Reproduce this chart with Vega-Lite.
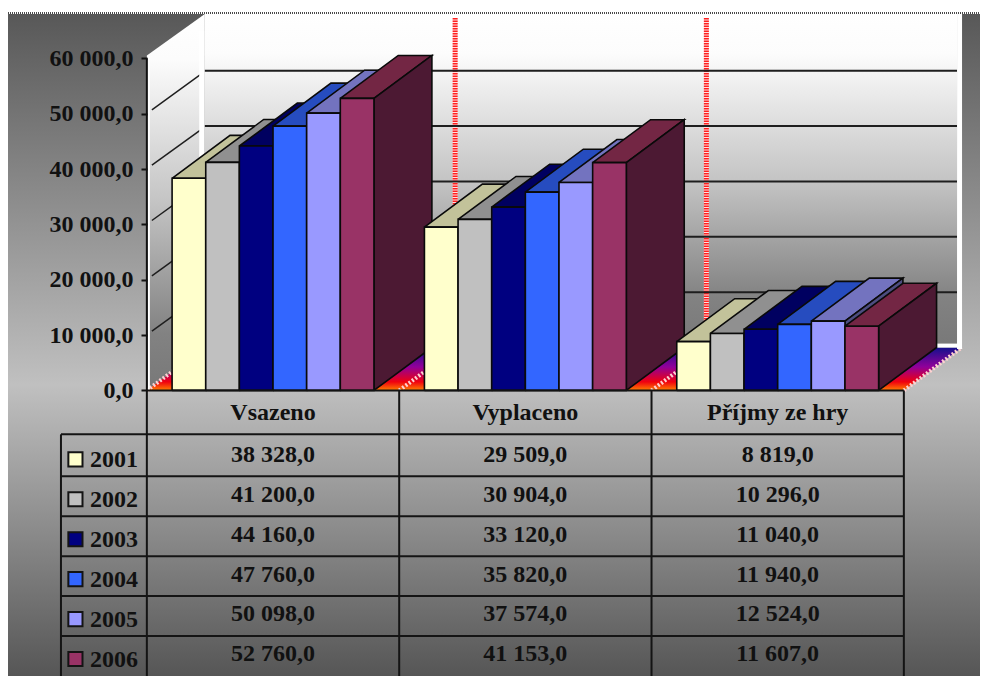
{"$schema":"https://vega.github.io/schema/vega-lite/v6.json","width":981,"height":677,"padding":0,"autosize":{"type":"fit","contains":"padding"},"background":"white","config":{"view":{"stroke":null},"text":{"font":"Liberation Serif","fontWeight":"bold","fontSize":24,"color":"#111111"}},
"datasets":{
"bars":[
{"cat":"Vsazeno","g":0,"year":2001,"value":38328},{"cat":"Vsazeno","g":0,"year":2002,"value":41200},{"cat":"Vsazeno","g":0,"year":2003,"value":44160},{"cat":"Vsazeno","g":0,"year":2004,"value":47760},{"cat":"Vsazeno","g":0,"year":2005,"value":50098},{"cat":"Vsazeno","g":0,"year":2006,"value":52760},
{"cat":"Vyplaceno","g":1,"year":2001,"value":29509},{"cat":"Vyplaceno","g":1,"year":2002,"value":30904},{"cat":"Vyplaceno","g":1,"year":2003,"value":33120},{"cat":"Vyplaceno","g":1,"year":2004,"value":35820},{"cat":"Vyplaceno","g":1,"year":2005,"value":37574},{"cat":"Vyplaceno","g":1,"year":2006,"value":41153},
{"cat":"Příjmy ze hry","g":2,"year":2001,"value":8819},{"cat":"Příjmy ze hry","g":2,"year":2002,"value":10296},{"cat":"Příjmy ze hry","g":2,"year":2003,"value":11040},{"cat":"Příjmy ze hry","g":2,"year":2004,"value":11940},{"cat":"Příjmy ze hry","g":2,"year":2005,"value":12524},{"cat":"Příjmy ze hry","g":2,"year":2006,"value":11607}],
"years":[{"year":2001},{"year":2002},{"year":2003},{"year":2004},{"year":2005},{"year":2006}],
"ticks":[{"tick":0},{"tick":10000},{"tick":20000},{"tick":30000},{"tick":40000},{"tick":50000},{"tick":60000}],
"cats":[{"cat":"Vsazeno","c":0},{"cat":"Vyplaceno","c":1},{"cat":"Příjmy ze hry","c":2},{"cat":"","c":3}],
"corners":[{"k":0},{"k":1},{"k":2},{"k":3}]},
"layer":[
{"data":{"values":[{}]},"mark":{"type":"rect","fill":{"gradient":"linear","x1":0,"x2":0,"y1":0,"y2":1,"stops":[{"offset":0,"color":"#585858"},{"offset":0.56,"color":"#c0c0c0"},{"offset":1,"color":"#565656"}]}},"encoding":{"x":{"datum":-4.127,"type":"quantitative","scale":{"domain":[-4.365,24.763],"nice":false,"zero":false},"axis":null},"x2":{"datum":24.763},"y":{"datum":68014,"type":"quantitative","scale":{"domain":[-51596,70539],"nice":false,"zero":false},"axis":null},"y2":{"datum":-51596}}},
{"data":{"values":[{}]},"mark":{"type":"rect","fill":{"gradient":"linear","x1":0,"x2":0,"y1":0,"y2":1,"stops":[{"offset":0,"color":"#ffffff"},{"offset":0.12,"color":"#fcfcfc"},{"offset":0.5,"color":"#c4c4c4"},{"offset":0.85,"color":"#828282"},{"offset":1,"color":"#787878"}]}},"encoding":{"x":{"datum":1.722,"type":"quantitative","scale":{"domain":[-4.365,24.763],"nice":false,"zero":false},"axis":null},"x2":{"datum":24.08},"y":{"datum":68014,"type":"quantitative","scale":{"domain":[-51596,70539],"nice":false,"zero":false},"axis":null},"y2":{"datum":7757}}},
{"data":{"name":"corners"},"transform":[{"calculate":"[0,1.722,1.722,0][datum.k]","as":"px"},{"calculate":"[0,7757,68014,60500][datum.k]","as":"pv"}],"mark":{"type":"line","filled":true,"stroke":null,"fill":{"gradient":"linear","x1":0,"x2":0,"y1":0,"y2":1,"stops":[{"offset":0,"color":"#ffffff"},{"offset":0.12,"color":"#fcfcfc"},{"offset":0.5,"color":"#c4c4c4"},{"offset":0.85,"color":"#828282"},{"offset":1,"color":"#787878"}]}},"encoding":{"x":{"field":"px","type":"quantitative","scale":{"domain":[-4.365,24.763],"nice":false,"zero":false},"axis":null},"y":{"field":"pv","type":"quantitative","scale":{"domain":[-51596,70539],"nice":false,"zero":false},"axis":null},"order":{"field":"k"}}},
{"data":{"name":"corners"},"transform":[{"calculate":"[0,22.5,24.222,1.722][datum.k]","as":"px"},{"calculate":"[0,0,7757,7757][datum.k]","as":"pv"}],"mark":{"type":"line","filled":true,"stroke":null,"fill":{"gradient":"linear","x1":0,"x2":0,"y1":0,"y2":1,"stops":[{"offset":0,"color":"#14108c"},{"offset":0.45,"color":"#90009a"},{"offset":0.8,"color":"#f00010"},{"offset":1,"color":"#ff8000"}]}},"encoding":{"x":{"field":"px","type":"quantitative","scale":{"domain":[-4.365,24.763],"nice":false,"zero":false},"axis":null},"y":{"field":"pv","type":"quantitative","scale":{"domain":[-51596,70539],"nice":false,"zero":false},"axis":null},"order":{"field":"k"}}},
{"data":{"name":"cats"},"transform":[{"calculate":"datum.c*7.5","as":"fx"},{"calculate":"datum.c*7.5+1.722","as":"bx"},{"calculate":"7757","as":"bv"},{"calculate":"0","as":"fv"}],"mark":{"type":"rule","stroke":"#ffd0d0","strokeWidth":4,"strokeDash":[2,2]},"encoding":{"x":{"field":"fx","type":"quantitative","scale":{"domain":[-4.365,24.763],"nice":false,"zero":false},"axis":null},"x2":{"field":"bx"},"y":{"field":"fv","type":"quantitative","scale":{"domain":[-51596,70539],"nice":false,"zero":false},"axis":null},"y2":{"field":"bv"}}},
{"data":{"name":"cats"},"transform":[{"filter":"datum.c==1||datum.c==2"},{"calculate":"datum.c==1?9.163:16.63","as":"bx"}],"mark":{"type":"rule","stroke":"#ffe0e0","strokeWidth":5},"encoding":{"x":{"field":"bx","type":"quantitative","scale":{"domain":[-4.365,24.763],"nice":false,"zero":false},"axis":null},"y":{"datum":67300,"type":"quantitative","scale":{"domain":[-51596,70539],"nice":false,"zero":false},"axis":null},"y2":{"datum":7757}}},
{"data":{"name":"cats"},"transform":[{"filter":"datum.c==1||datum.c==2"},{"calculate":"datum.c==1?9.163:16.63","as":"bx"}],"mark":{"type":"rule","stroke":"#ff2020","strokeWidth":5,"strokeDash":[1.5,1]},"encoding":{"x":{"field":"bx","type":"quantitative","scale":{"domain":[-4.365,24.763],"nice":false,"zero":false},"axis":null},"y":{"datum":67300,"type":"quantitative","scale":{"domain":[-51596,70539],"nice":false,"zero":false},"axis":null},"y2":{"datum":7757}}},
{"data":{"name":"ticks"},"transform":[{"filter":"datum.tick>0&&datum.tick<60000"},{"calculate":"datum.tick+7757","as":"bv"}],"mark":{"type":"rule","stroke":"#1e1e1e","strokeWidth":2},"encoding":{"x":{"datum":1.722,"type":"quantitative","scale":{"domain":[-4.365,24.763],"nice":false,"zero":false},"axis":null},"x2":{"datum":24.08},"y":{"field":"bv","type":"quantitative","scale":{"domain":[-51596,70539],"nice":false,"zero":false},"axis":null}}},
{"data":{"name":"ticks"},"transform":[{"filter":"datum.tick>0&&datum.tick<60000"},{"calculate":"datum.tick+7000","as":"bv"},{"calculate":"datum.tick+700","as":"fv"}],"mark":{"type":"rule","stroke":"#1e1e1e","strokeWidth":1.5},"encoding":{"x":{"datum":0.15,"type":"quantitative","scale":{"domain":[-4.365,24.763],"nice":false,"zero":false},"axis":null},"x2":{"datum":1.58},"y":{"field":"fv","type":"quantitative","scale":{"domain":[-51596,70539],"nice":false,"zero":false},"axis":null},"y2":{"field":"bv"}}},
{"data":{"values":[{}]},"mark":{"type":"rule","stroke":"white","strokeWidth":5},"encoding":{"x":{"datum":1.63,"type":"quantitative","scale":{"domain":[-4.365,24.763],"nice":false,"zero":false},"axis":null},"y":{"datum":65000,"type":"quantitative","scale":{"domain":[-51596,70539],"nice":false,"zero":false},"axis":null},"y2":{"datum":7757}}},
{"data":{"values":[{}]},"mark":{"type":"rule","stroke":"white","strokeWidth":5},"encoding":{"x":{"datum":24.155,"type":"quantitative","scale":{"domain":[-4.365,24.763],"nice":false,"zero":false},"axis":null},"y":{"datum":68014,"type":"quantitative","scale":{"domain":[-51596,70539],"nice":false,"zero":false},"axis":null},"y2":{"datum":7500}}},
{"data":{"values":[{}]},"mark":{"type":"rule","stroke":"white","strokeWidth":4},"encoding":{"x":{"datum":23.4,"type":"quantitative","scale":{"domain":[-4.365,24.763],"nice":false,"zero":false},"axis":null},"x2":{"datum":24.2},"y":{"datum":8100,"type":"quantitative","scale":{"domain":[-51596,70539],"nice":false,"zero":false},"axis":null}}},
{"data":{"values":[{}]},"mark":{"type":"rule","stroke":"white","strokeWidth":2},"encoding":{"x":{"datum":0.06,"type":"quantitative","scale":{"domain":[-4.365,24.763],"nice":false,"zero":false},"axis":null},"y":{"datum":0,"type":"quantitative","scale":{"domain":[-51596,70539],"nice":false,"zero":false},"axis":null},"y2":{"datum":60500}}},
{"data":{"values":[{}]},"mark":{"type":"rule","stroke":"#4a4a4a","strokeWidth":2,"strokeDash":[1,1]},"encoding":{"x":{"datum":-4.127,"type":"quantitative","scale":{"domain":[-4.365,24.763],"nice":false,"zero":false},"axis":null},"x2":{"datum":24.763},"y":{"datum":68200,"type":"quantitative","scale":{"domain":[-51596,70539],"nice":false,"zero":false},"axis":null}}},
{"data":{"name":"bars"},"transform":[
{"calculate":"datum.g*7.5+0.75+(datum.year-2001)","as":"x0"},
{"calculate":"[0,1,2,3,4,5,6,7,8,9,10,11,12,13,14]","as":"k"},
{"flatten":["k"]},
{"calculate":"floor(datum.k/5)","as":"face"},
{"calculate":"datum.k%5","as":"c"},
{"calculate":"datum.face==0?datum.x0+[0,1,2.722,1.722,0][datum.c]:datum.face==1?datum.x0+[1,2.722,2.722,1,1][datum.c]:datum.x0+[0,1,1,0,0][datum.c]","as":"px"},
{"calculate":"datum.face==0?datum.value+[0,0,7757,7757,0][datum.c]:datum.face==1?[0,7757,datum.value+7757,datum.value,0][datum.c]:[0,0,datum.value,datum.value,0][datum.c]","as":"pv"},
{"calculate":"datum.year+'-'+datum.face","as":"fk"},
{"calculate":"datum.g+'-'+datum.year+'-'+datum.face","as":"poly"}],
"mark":{"type":"line","filled":true,"stroke":"#0a0a0a","strokeWidth":1.6,"strokeJoin":"miter"},
"encoding":{"x":{"field":"px","type":"quantitative","scale":{"domain":[-4.365,24.763],"nice":false,"zero":false},"axis":null},"y":{"field":"pv","type":"quantitative","scale":{"domain":[-51596,70539],"nice":false,"zero":false},"axis":null},"detail":{"field":"poly"},"order":{"field":"k"},"stroke":{"value":"#0a0a0a"},
"fill":{"field":"fk","type":"nominal","legend":null,"scale":{"domain":["2001-0","2001-1","2001-2","2002-0","2002-1","2002-2","2003-0","2003-1","2003-2","2004-0","2004-1","2004-2","2005-0","2005-1","2005-2","2006-0","2006-1","2006-2"],"range":["#c2c29a","#80806a","#ffffcc","#909090","#606060","#c0c0c0","#000060","#000040","#000080","#264cbf","#1a3380","#3366ff","#7373bf","#4d4d80","#9999ff","#732644","#4c1933","#993366"]}}}},
{"data":{"name":"ticks"},"mark":{"type":"rule","stroke":"#111111","strokeWidth":2},"transform":[{"filter":"datum.tick==0"}],"encoding":{"x":{"datum":0,"type":"quantitative","scale":{"domain":[-4.365,24.763],"nice":false,"zero":false},"axis":null},"y":{"datum":0,"type":"quantitative","scale":{"domain":[-51596,70539],"nice":false,"zero":false},"axis":{"orient":"left","offset":-147,"values":[0,10000,20000,30000,40000,50000,60000],"title":null,"domain":false,"grid":false,"ticks":true,"tickColor":"#111111","tickSize":6,"tickWidth":2,"labelFont":"Liberation Serif","labelFontWeight":"bold","labelFontSize":24,"labelColor":"#111111","labelPadding":8,"labelFlush":false,"labelOverlap":false,"zindex":1,"labelExpr":"replace(replace(format(datum.value,',.1f'),',',' '),'.',',')"}},"y2":{"datum":60000}}},
{"data":{"values":[{}]},"mark":{"type":"rule","stroke":"#141414","strokeWidth":2},"encoding":{"x":{"datum":0,"type":"quantitative","scale":{"domain":[-4.365,24.763],"nice":false,"zero":false},"axis":null},"x2":{"datum":22.5},"y":{"datum":0,"type":"quantitative","scale":{"domain":[-51596,70539],"nice":false,"zero":false},"axis":null}}},
{"data":{"name":"cats"},"transform":[{"calculate":"datum.c*7.5","as":"fx"}],"mark":{"type":"rule","stroke":"#141414","strokeWidth":2},"encoding":{"x":{"field":"fx","type":"quantitative","scale":{"domain":[-4.365,24.763],"nice":false,"zero":false},"axis":null},"y":{"datum":0,"type":"quantitative","scale":{"domain":[-51596,70539],"nice":false,"zero":false},"axis":null},"y2":{"datum":-51596}}},
{"data":{"values":[{}]},"mark":{"type":"rule","stroke":"#141414","strokeWidth":2},"encoding":{"x":{"datum":-2.553,"type":"quantitative","scale":{"domain":[-4.365,24.763],"nice":false,"zero":false},"axis":null},"y":{"datum":-7938,"type":"quantitative","scale":{"domain":[-51596,70539],"nice":false,"zero":false},"axis":null},"y2":{"datum":-51596}}},
{"data":{"name":"years"},"transform":[{"calculate":"datum.year-2001","as":"r"},{"calculate":"datum.r==0?-7938:-15515-(datum.r-1)*7216","as":"ly"}],"mark":{"type":"rule","stroke":"#141414","strokeWidth":2},"encoding":{"x":{"datum":-2.553,"type":"quantitative","scale":{"domain":[-4.365,24.763],"nice":false,"zero":false},"axis":null},"x2":{"datum":22.5},"y":{"field":"ly","type":"quantitative","scale":{"domain":[-51596,70539],"nice":false,"zero":false},"axis":null}}},
{"data":{"name":"cats"},"transform":[{"filter":"datum.c<3"},{"calculate":"(datum.c+0.5)*7.5","as":"cx"},{"calculate":"-4150","as":"hy"}],"mark":{"type":"text","align":"center","baseline":"middle"},"encoding":{"x":{"field":"cx","type":"quantitative","scale":{"domain":[-4.365,24.763],"nice":false,"zero":false},"axis":null},"y":{"field":"hy","type":"quantitative","scale":{"domain":[-51596,70539],"nice":false,"zero":false},"axis":null},"text":{"field":"cat"}}},
{"data":{"name":"bars"},"transform":[{"calculate":"(datum.g+0.5)*7.5","as":"cx"},{"calculate":"-11620-(datum.year-2001)*7216","as":"ry"},{"calculate":"replace(replace(format(datum.value,',.1f'),',',' '),'.',',')","as":"label"}],"mark":{"type":"text","align":"center","baseline":"middle"},"encoding":{"x":{"field":"cx","type":"quantitative","scale":{"domain":[-4.365,24.763],"nice":false,"zero":false},"axis":null},"y":{"field":"ry","type":"quantitative","scale":{"domain":[-51596,70539],"nice":false,"zero":false},"axis":null},"text":{"field":"label"}}},
{"data":{"name":"years"},"transform":[{"calculate":"-12630-(datum.year-2001)*7216","as":"ry"},{"calculate":"''+datum.year","as":"label"}],"mark":{"type":"text","align":"left","baseline":"middle"},"encoding":{"x":{"datum":-1.692,"type":"quantitative","scale":{"domain":[-4.365,24.763],"nice":false,"zero":false},"axis":null},"y":{"field":"ry","type":"quantitative","scale":{"domain":[-51596,70539],"nice":false,"zero":false},"axis":null},"text":{"field":"label"}}},
{"data":{"name":"years"},"transform":[{"calculate":"-12448-(datum.year-2001)*7216","as":"ry"},{"calculate":"''+datum.year","as":"yk"}],"mark":{"type":"point","shape":"square","filled":true,"size":200,"stroke":"#141414","strokeWidth":2,"opacity":1},"encoding":{"x":{"datum":-2.123,"type":"quantitative","scale":{"domain":[-4.365,24.763],"nice":false,"zero":false},"axis":null},"y":{"field":"ry","type":"quantitative","scale":{"domain":[-51596,70539],"nice":false,"zero":false},"axis":null},"fill":{"field":"yk","type":"nominal","legend":null,"scale":{"domain":["2001","2002","2003","2004","2005","2006"],"range":["#ffffcc","#c0c0c0","#000080","#3366ff","#9999ff","#993366"]}}}}
],"resolve":{"scale":{"fill":"independent"},"axis":{"y":"independent"}}}
